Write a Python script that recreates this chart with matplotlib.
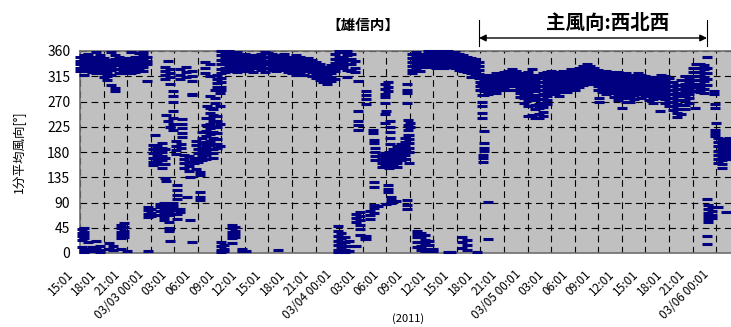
import matplotlib
matplotlib.use('Agg')
import matplotlib.pyplot as plt
from matplotlib.lines import Line2D
from matplotlib.transforms import ScaledTranslation

plt.rcParams['font.family'] = ['Noto Sans CJK JP', 'DejaVu Sans']

# hours counted from 03/02 15:01, ticks every 3 hours
tick_hours = list(range(0, 82, 3))
tick_labels = ['15:01', '18:01', '21:01', '03/03 00:01', '03:01', '06:01', '09:01',
               '12:01', '15:01', '18:01', '21:01', '03/04 00:01', '03:01', '06:01',
               '09:01', '12:01', '15:01', '18:01', '21:01', '03/05 00:01', '03:01',
               '06:01', '09:01', '12:01', '15:01', '18:01', '21:01', '03/06 00:01']
y_ticks = [0, 45, 90, 135, 180, 225, 270, 315, 360]

# --- 03/02 15:01 - 03/03 12:00 ---
day1_hours = [0.0, 0.5, 1.0, 1.5, 2.0, 2.5, 3.0, 3.5, 4.0, 4.5, 5.0, 5.5, 6.0, 6.5,
              7.0, 7.5, 8.0, 8.5,
              0.2, 0.5, 1.0, 1.5, 2.0, 2.5, 3.7, 4.2, 5.2, 5.6, 6.0, 8.6,
              8.7, 9.1, 9.3, 9.6, 9.8, 10.2, 10.4, 10.7, 10.8, 10.9, 11.2, 11.3,
              11.4, 11.5, 11.8, 11.9, 12.2, 12.4, 12.7, 12.8, 13.0, 13.2, 13.5,
              13.6, 13.9, 14.0, 14.2, 14.3, 14.5, 14.8, 15.0, 15.3, 15.5, 15.9,
              16.0, 16.2, 16.5, 16.6, 17.0, 17.2, 17.5, 17.8,
              18.0, 18.5, 19.0, 19.5, 20.0, 20.5,
              17.9, 18.4, 19.3, 19.8, 20.6]
day1_dirs = [[350, 343, 336, 330, 324], [352, 345, 338, 331, 325, 318],
             [355, 348, 341, 334, 327], [350, 343, 336, 329, 322],
             [358, 347, 340, 333, 326, 320], [352, 345, 338, 331, 324],
             [348, 341, 334, 327, 320, 314], [344, 337, 330, 323, 316, 308],
             [358, 340, 333, 326, 318, 300], [352, 345, 336, 328, 294, 288],
             [350, 343, 335, 328, 320], [347, 340, 333, 326, 320],
             [344, 338, 331, 324], [358, 348, 341, 334, 327, 321],
             [350, 344, 337, 330, 323], [356, 349, 342, 335, 328],
             [358, 352, 345, 338, 331, 324], [350, 343, 336, 307],
             [42, 36, 30, 24, 10], [44, 38, 32, 26, 6, 2], [20, 8, 3], [10, 5],
             [22, 8, 4], [12, 6, 2], [18, 8], [12, 5], [50, 44, 38, 32, 26, 8],
             [54, 47, 40, 34, 28], [3], [4],
             [82, 76, 70, 64], [78, 72, 66], [193, 185, 178, 170, 163, 156],
             [211], [190, 182, 175, 168, 160], [88, 82, 75, 68],
             [196, 188, 180, 172, 165, 158, 151], [90, 84, 78, 72, 65, 58],
             [331, 324, 317, 310, 185, 170, 158, 134], [128, 246],
             [343, 236], [86, 80, 74, 68, 55, 45, 39],
             [328, 320, 313, 225], [302, 22], [289, 280, 270, 90, 83, 76, 70],
             [253, 240, 230, 220], [199, 191, 183, 176], [121, 112, 104, 97, 78, 70, 60],
             [328, 318, 310, 79, 73], [195, 187], [238, 230, 222, 214, 206],
             [175, 168, 160, 152], [331, 322, 314], [100],
             [172, 163, 155, 147], [136, 58], [19], [325, 316, 307, 283, 282],
             [168, 160], [150, 200, 192], [185, 178, 170, 162],
             [145, 139, 108, 100, 94], [215, 205, 196, 188, 180, 172, 165],
             [340, 330, 320], [240, 228, 218, 208, 198, 190, 182, 175, 168],
             [262], [280, 250, 240, 230, 222, 212, 200, 192, 185, 178],
             [336, 316, 258], [256, 246, 236, 225, 215, 205, 195, 186, 178, 170],
             [276, 268, 290], [318, 310, 303, 296, 245, 235, 225, 214, 203, 195, 187],
             [262, 286, 230, 190],
             [360, 352, 344, 336, 328, 320, 312, 304, 296, 290],
             [358, 350, 343, 336, 329, 322], [360, 353, 346, 339, 332, 325],
             [355, 348, 341, 334, 327], [358, 351, 344, 337, 330, 323],
             [352, 345, 338, 331, 324],
             [20, 12, 6, 2], [14, 8, 3], [50, 44, 38, 32, 26, 18], [46, 40, 34, 28], [8, 3]]

# --- 03/03 12:00 - 03/04 09:20 ---
day2_hours = [21.0, 21.5, 22.0, 22.5, 23.0, 23.5, 24.0, 24.5, 25.0, 25.5, 26.0, 26.5,
              27.0, 27.5, 28.0, 28.5, 29.0, 29.5, 30.0, 30.5, 31.0, 31.5, 32.0, 32.5,
              33.0, 33.5, 34.0, 34.5, 35.0, 21.1, 25.2,
              35.4, 36.4, 37.3, 37.4, 37.6, 38.4, 38.9, 39.0, 39.2, 39.4, 39.5,
              39.9, 40.4, 40.9, 41.4, 41.6, 41.8, 41.9, 42.0,
              32.8, 33.3, 33.8, 34.3, 35.2, 35.7, 36.3, 36.9, 37.5, 38.0, 39.6,
              40.3, 41.7]
day2_dirs = [[355, 348, 341, 334, 327], [352, 345, 338, 331, 324],
             [350, 343, 336, 329, 322], [353, 346, 339, 332],
             [355, 348, 341, 334, 327], [358, 350, 343, 336, 329, 322],
             [357, 350, 343, 336, 330], [355, 348, 341, 334, 327],
             [352, 345, 338, 331, 325], [350, 343, 336, 329],
             [354, 347, 340, 333, 326], [350, 343, 336, 329, 322],
             [348, 341, 334, 327, 320], [352, 345, 338, 331, 324, 318],
             [350, 343, 336, 329, 322], [346, 339, 332, 325, 318],
             [348, 341, 334, 327], [344, 337, 330, 323, 316],
             [340, 333, 326, 319, 312], [336, 329, 322, 315, 308],
             [332, 325, 318, 311, 305], [330, 322, 315, 308, 301],
             [335, 327, 320, 313, 306], [355, 345, 338, 331, 324, 310],
             [360, 350, 343, 336, 329], [358, 348, 340, 332],
             [360, 352, 344, 336, 326, 313], [355, 345, 336, 325],
             [342, 330, 322], [4], [6],
             [307, 253, 235, 228, 220], [289, 281, 274, 265, 31, 25],
             [220, 214], [202, 196, 127, 118], [187, 180, 173, 166],
             [175, 168, 160, 153], [301, 293, 284, 278, 268, 248, 231, 178, 170, 163, 156],
             [253, 88], [304, 296, 288, 121, 114, 109], [180, 172, 165, 158, 151],
             [235, 225, 215, 205, 195], [185, 177, 170, 162, 155],
             [190, 182, 175, 168, 160, 153], [195, 188, 180, 172, 165],
             [205, 198, 190, 183, 175, 168], [301, 290, 285, 268],
             [237, 228, 220, 210], [211, 204, 196, 188, 180, 160], [232, 225],
             [48, 40, 30, 22, 14, 6, 2], [35, 26, 18, 10, 3],
             [28, 20, 12, 5, 2], [22, 12, 4], [70, 62, 55, 13],
             [73, 66, 58, 50, 43, 32], [31, 25], [75, 68, 60],
             [85, 80, 72], [84], [100, 94, 90], [92], [94, 85, 79]]

# --- 03/04 09:20 - 03/05 06:40 ---
day3_hours = [42.3, 42.8, 43.3, 43.8, 44.3, 44.8, 45.3, 45.8, 46.3, 46.8, 47.3, 47.8,
              48.3, 48.8, 49.3, 49.8, 50.3, 50.8,
              42.9, 43.4, 43.9, 44.5, 45.0, 46.8, 47.2, 48.6, 49.3, 50.5,
              51.2, 51.3, 51.4, 51.5, 52.0,
              51.0, 51.5, 52.0, 52.5, 53.0, 53.5, 54.0, 54.5, 55.0, 55.5, 56.0,
              56.5, 57.0, 57.5, 58.0, 58.5, 59.0, 59.5, 60.0, 60.5, 61.0, 61.5,
              62.0, 62.5, 63.0, 63.5]
day3_dirs = [[355, 348, 341, 334, 327, 320], [358, 350, 343, 336, 329],
             [352, 345, 338, 331, 325], [355, 348, 341, 334],
             [360, 352, 345, 338, 331], [360, 355, 348, 341, 334],
             [358, 351, 344, 337, 330], [360, 353, 346, 339, 332],
             [357, 350, 343, 336, 329], [360, 352, 345, 338, 331],
             [356, 349, 342, 335], [358, 351, 344, 337, 330],
             [355, 348, 341, 334, 327], [352, 345, 338, 331, 324],
             [350, 343, 336, 329, 322], [348, 341, 334, 327, 320, 314],
             [345, 338, 331, 324, 317], [340, 333, 326, 319, 312],
             [40, 34, 28, 20, 10], [36, 28, 20, 12, 5], [32, 24, 16, 8, 3],
             [22, 14, 6], [8, 3], [1], [1], [28, 20, 9], [24, 14, 5], [1],
             [300, 290, 281, 270, 262, 250, 240], [175, 169, 163],
             [196, 188, 181], [217], [91, 25],
             [318, 311, 304, 297, 290], [316, 309, 302, 295, 288, 281],
             [318, 311, 304, 297, 290, 283], [316, 309, 302, 295, 288],
             [320, 313, 306, 299, 292, 285], [318, 311, 304, 297, 290],
             [322, 315, 308, 301, 294], [325, 318, 311, 304, 297, 290],
             [328, 321, 314, 307, 300], [325, 318, 311, 304, 297, 290],
             [320, 313, 306, 299, 292, 285, 278],
             [318, 311, 304, 297, 290, 283, 276, 268],
             [322, 315, 308, 301, 294, 287, 280, 272, 262, 244],
             [328, 318, 311, 304, 297, 290, 282, 274, 246],
             [316, 309, 302, 295, 288, 280, 272, 264, 256, 241],
             [318, 311, 304, 297, 290, 282, 274, 266, 258, 248, 241],
             [320, 312, 305, 298, 291, 283, 275, 267, 260, 252, 244],
             [322, 315, 308, 301, 294, 287, 280, 272, 265],
             [325, 318, 311, 304, 297, 290, 283], [320, 313, 306, 299, 292, 285],
             [322, 315, 308, 301, 294, 287, 280], [325, 318, 311, 304, 297, 290],
             [322, 315, 308, 301, 294, 287], [328, 320, 313, 306, 299, 292],
             [325, 318, 311, 304, 297, 290], [330, 323, 316, 309, 302, 295]]

# --- 03/05 06:40 - 03/06 02:00 ---
day4_hours = [64.0, 64.5, 65.0, 65.5, 66.0, 66.5, 67.0, 67.5, 68.0, 68.5, 69.0, 69.5,
              70.0, 70.5, 71.0, 71.5, 72.0, 72.5, 73.0, 73.5, 74.0, 74.5, 75.0, 75.5,
              76.0, 76.5, 77.0, 77.5, 78.0, 78.5, 79.0, 79.5, 79.9,
              66.1, 69.0, 73.9, 78.3,
              80.7, 80.9, 81.0, 81.2, 81.7, 82.2, 82.7,
              80.0, 80.5, 81.3, 82.3]
day4_dirs = [[334, 327, 320, 313, 306, 299], [336, 329, 322, 315, 308, 301],
             [334, 327, 320, 313, 306], [330, 323, 316, 309, 302],
             [326, 319, 312, 305, 298, 291], [322, 315, 308, 301, 294, 287],
             [325, 318, 311, 304, 297, 290, 283], [322, 315, 308, 301, 294, 287],
             [320, 313, 306, 299, 292, 285, 278], [322, 315, 308, 301, 294, 287, 280, 273],
             [318, 311, 304, 297, 290, 283, 276], [320, 313, 306, 299, 292, 285, 278, 270],
             [318, 311, 304, 297, 290, 283, 276, 269], [316, 309, 302, 295, 288, 281, 274],
             [320, 313, 306, 299, 292, 285], [318, 311, 304, 297, 290, 283, 276],
             [316, 309, 302, 295, 288, 281], [314, 307, 300, 293, 286, 279, 272],
             [310, 303, 296, 289, 282, 275, 268], [314, 307, 300, 293, 286, 279],
             [318, 311, 304, 297, 290, 283, 276], [316, 309, 302, 295, 288, 281, 274, 267],
             [312, 305, 298, 291, 284, 277, 270, 262], [305, 298, 291, 284, 277, 270, 262, 254],
             [300, 293, 286, 279, 272, 265, 257, 249, 242],
             [308, 300, 293, 286, 279, 272, 264, 256, 247],
             [315, 308, 301, 294, 287, 280, 272, 264, 256],
             [312, 305, 298, 291, 284, 276, 268], [330, 323, 316, 309, 302, 295, 288],
             [337, 330, 323, 316, 309, 302, 295, 288], [336, 329, 322, 315, 308, 301, 294, 287],
             [335, 328, 321, 314, 307, 300, 293, 286], [349, 330, 320, 310, 300, 97, 31, 16],
             [277, 270], [258], [253], [259],
             [289, 283], [265, 259, 220, 213, 208], [232],
             [205, 198, 190, 182, 175, 168, 160],
             [200, 193, 186, 179, 172, 165, 158, 151],
             [203, 196, 189, 182, 175, 168], [205, 198, 191, 184, 177, 170],
             [85, 78, 72, 66, 60, 55], [82, 75, 68, 62], [82], [73]]


def flatten(hours, dirs):
    xs, ys = [], []
    for h, ds in zip(hours, dirs):
        for d in ds:
            xs.append(h)
            ys.append(d)
    return xs, ys


x_all, y_all = [], []
for hh, dd in [(day1_hours, day1_dirs), (day2_hours, day2_dirs),
               (day3_hours, day3_dirs), (day4_hours, day4_dirs)]:
    xs, ys = flatten(hh, dd)
    x_all += xs
    y_all += ys

W, H = 731, 327
fig = plt.figure(figsize=(W / 100, H / 100), dpi=100)
ax = fig.add_axes([80 / W, 1 - 253 / H, 1 - 80 / W, 202 / H])
ax.set_facecolor('#c0c0c0')
ax.set_axisbelow(True)

ax.plot(x_all, y_all, ls='none', marker='_', ms=7, mew=2.2, color='#000080',
        clip_on=False, zorder=3)

ax.set_xlim(0, 82.9)
ax.set_ylim(0, 360)
ax.set_yticks(y_ticks)
ax.set_yticklabels([str(v) for v in y_ticks], fontsize=10)
ax.set_xticks(tick_hours)
ax.set_xticklabels(tick_labels, rotation=45, ha='right', va='center',
                   rotation_mode='anchor', fontsize=8.5)
ax.tick_params(axis='both', length=0)
ax.tick_params(axis='y', pad=7)
ax.tick_params(axis='x', pad=14)
shift = ScaledTranslation(-9 / 100, 0, fig.dpi_scale_trans)
for lab in ax.get_xticklabels():
    lab.set_transform(lab.get_transform() + shift)
ax.grid(color='black', ls=(0, (6, 4)), lw=0.8)

for s in ['left', 'bottom', 'top']:
    ax.spines[s].set_color('#707070')
    ax.spines[s].set_linewidth(1.2)
ax.spines['right'].set_visible(False)

ax.set_ylabel('1分平均風向[°]', fontsize=9, labelpad=15)

fig.text(363 / W, 1 - 25 / H, '【雄信内】', fontsize=10.5, fontweight='bold',
         ha='center', va='center')
fig.text(408 / W, 1 - 319 / H, '(2011)', fontsize=8, ha='center', va='center')
fig.text(608 / W, 1 - 23 / H, '主風向:西北西', fontsize=14, fontweight='bold',
         ha='center', va='center')

ax.annotate('', xy=(707, H - 38), xytext=(479, H - 38), xycoords='figure pixels',
            textcoords='figure pixels', annotation_clip=False,
            arrowprops=dict(arrowstyle='<|-|>', color='black', lw=1,
                            shrinkA=0, shrinkB=0, mutation_scale=10))
for xp in [479, 707]:
    fig.add_artist(Line2D([xp / W, xp / W], [1 - 20 / H, 1 - 46 / H],
                          transform=fig.transFigure, color='black', lw=0.8))

fig.savefig('out.png', dpi=100)
